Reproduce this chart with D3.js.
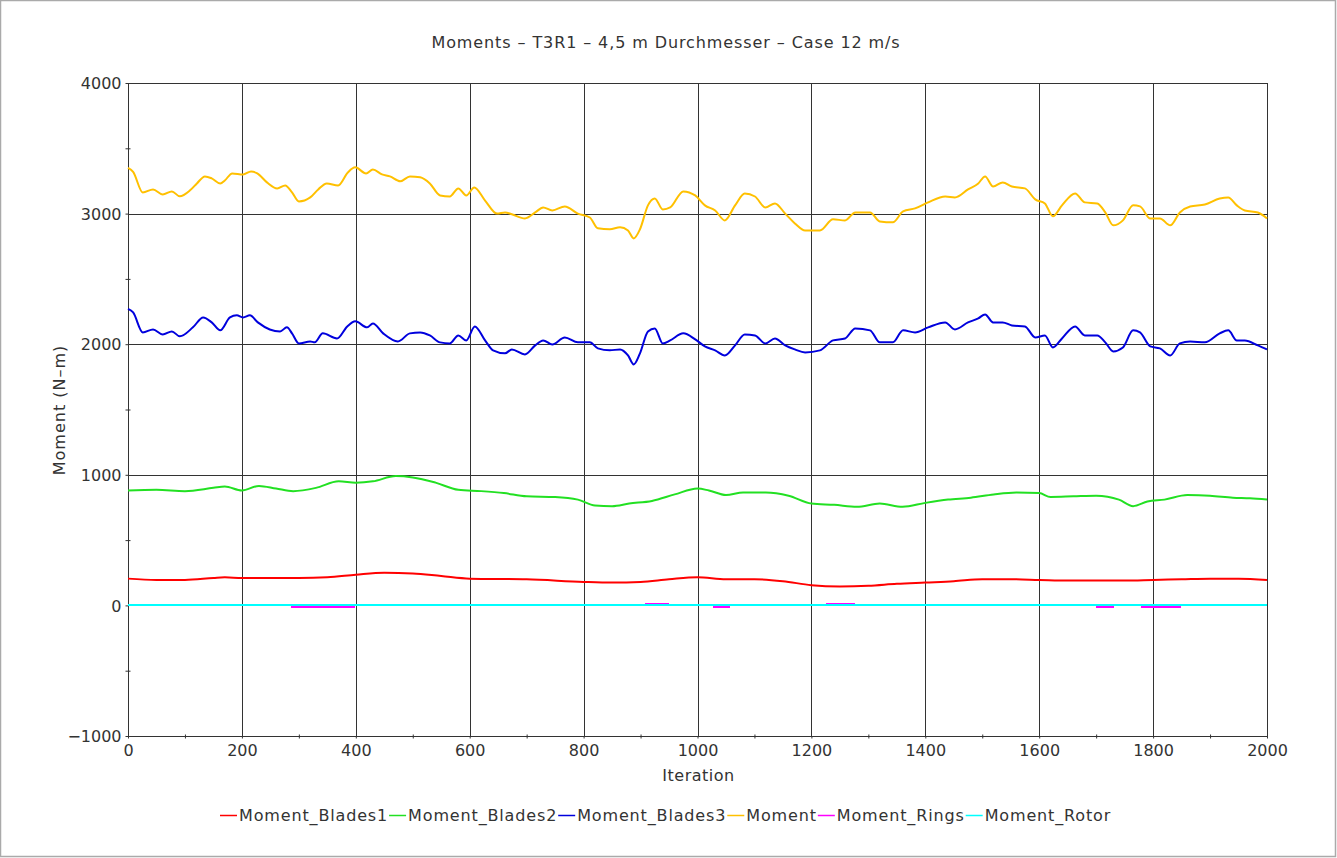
<!DOCTYPE html>
<html><head><meta charset="utf-8">
<script src="https://cdn.jsdelivr.net/npm/d3@7"></script>
<style>
body{margin:0;background:#fff;}
svg text{font-family:"DejaVu Sans",sans-serif;fill:#333;}
</style></head>
<body><svg id="c" width="1337" height="858"></svg>
<script>
const title = "Moments \u2013 T3R1 \u2013 4,5 m Durchmesser \u2013 Case 12 m/s";
const xLabel = "Iteration";
const yLabel = "Moment (N\u2013m)";
const xTicks = [0,200,400,600,800,1000,1200,1400,1600,1800,2000];
const yTicks = [-1000,0,1000,2000,3000,4000];
const seriesNames = ["Moment_Blades1","Moment_Blades2","Moment_Blades3","Moment","Moment_Rings","Moment_Rotor"];
const seriesColors = ["#ff0000","#22e022","#0000dd","#ffc000","#ff00ff","#00ffff"];

const blades1 = [[0,205],[50,195],[100,195],[150,210],[170,215],[200,210],[300,210],[350,215],[400,235],[450,250],[500,245],[550,225],[600,205],[700,200],[800,180],[850,175],[900,180],[950,200],[1000,215],[1050,200],[1100,200],[1150,185],[1200,155],[1250,145],[1300,150],[1350,165],[1400,175],[1450,185],[1500,200],[1550,200],[1600,195],[1650,190],[1700,190],[1750,190],[1800,195],[1850,200],[1900,205],[1950,205],[2000,195]];

const blades2 = [[0,880],[50,885],[100,875],[150,900],[170,910],[200,880],[230,915],[260,895],[290,875],[330,900],[370,950],[400,940],[430,950],[470,990],[500,980],[540,940],[580,885],[620,875],[660,860],[700,835],[750,830],[790,810],[820,765],[850,760],[880,780],[920,800],[960,850],[1000,895],[1020,880],[1050,845],[1080,865],[1120,865],[1160,840],[1200,780],[1240,770],[1280,755],[1320,780],[1360,755],[1400,785],[1440,810],[1480,825],[1520,850],[1560,865],[1600,860],[1620,830],[1660,835],[1700,840],[1740,810],[1765,760],[1790,795],[1820,810],[1860,845],[1900,840],[1940,825],[1970,820],[2000,810]];

const blades3 = [[0,2270],[9,2243],[26,2090],[44,2113],[61,2075],[77,2098],[91,2060],[114,2129],[132,2205],[147,2167],[162,2106],[179,2205],[191,2221],[202,2205],[214,2221],[228,2167],[249,2113],[267,2098],[279,2129],[288,2083],[300,2006],[320,2021],[328,2014],[342,2083],[367,2044],[385,2136],[399,2175],[420,2129],[430,2159],[448,2083],[474,2021],[495,2083],[513,2090],[530,2067],[548,2014],[565,2006],[580,2067],[594,2029],[609,2136],[627,2029],[641,1953],[662,1930],[674,1960],[697,1922],[715,1991],[729,2029],[745,1998],[767,2052],[790,2014],[811,2014],[825,1968],[846,1953],[864,1960],[878,1914],[888,1845],[899,1930],[913,2098],[925,2121],[939,2006],[952,2029],[975,2083],[996,2037],[1013,1983],[1031,1953],[1048,1914],[1066,1991],[1083,2075],[1101,2067],[1119,2006],[1136,2044],[1154,1991],[1171,1960],[1189,1937],[1215,1953],[1238,2029],[1259,2044],[1277,2121],[1303,2106],[1320,2014],[1343,2014],[1361,2106],[1382,2090],[1405,2129],[1435,2167],[1452,2113],[1475,2167],[1493,2198],[1505,2228],[1519,2167],[1536,2167],[1552,2144],[1575,2136],[1593,2052],[1610,2067],[1624,1975],[1640,2044],[1663,2136],[1680,2067],[1702,2067],[1716,2014],[1730,1945],[1747,1975],[1765,2106],[1777,2090],[1795,1983],[1812,1968],[1830,1914],[1847,2006],[1865,2021],[1891,2014],[1917,2083],[1932,2106],[1947,2029],[1961,2029],[1984,1991],[2000,1960]];

const moment = [[0,3350],[9,3320],[26,3162],[44,3185],[61,3147],[77,3170],[91,3132],[109,3178],[121,3231],[135,3285],[147,3270],[162,3231],[170,3254],[183,3308],[202,3300],[216,3323],[227,3308],[244,3239],[262,3193],[276,3216],[288,3162],[300,3093],[320,3124],[334,3185],[349,3231],[369,3216],[386,3315],[399,3354],[418,3308],[430,3338],[446,3300],[460,3285],[478,3247],[495,3285],[513,3278],[530,3231],[548,3139],[565,3131],[580,3193],[594,3139],[608,3200],[627,3100],[648,3000],[662,3009],[674,2995],[697,2963],[715,3009],[729,3047],[745,3024],[767,3055],[790,3000],[811,2970],[825,2887],[846,2880],[864,2895],[878,2870],[888,2810],[899,2880],[913,3063],[925,3116],[939,3032],[952,3047],[975,3170],[996,3139],[1013,3063],[1031,3024],[1048,2948],[1066,3063],[1083,3154],[1101,3131],[1119,3047],[1136,3078],[1154,3000],[1171,2925],[1189,2871],[1215,2871],[1238,2956],[1259,2948],[1277,3009],[1303,3009],[1320,2940],[1343,2933],[1361,3017],[1382,3040],[1405,3086],[1435,3131],[1452,3124],[1475,3185],[1493,3231],[1505,3285],[1519,3208],[1536,3239],[1552,3208],[1575,3193],[1593,3109],[1610,3078],[1624,2979],[1640,3063],[1663,3154],[1680,3086],[1702,3078],[1716,3009],[1730,2910],[1747,2948],[1765,3063],[1777,3055],[1795,2963],[1812,2963],[1830,2910],[1847,3009],[1865,3055],[1891,3070],[1917,3116],[1932,3124],[1947,3063],[1961,3024],[1984,3009],[2000,2963]];

const rings = [[0,0],[287,0],[288,-10],[397,-10],[398,0],[909,0],[910,10],[948,10],[949,0],[1028,0],[1029,-10],[1055,-10],[1056,0],[1226,0],[1227,10],[1275,10],[1276,0],[1700,0],[1701,-10],[1730,-10],[1731,0],[1779,0],[1780,-10],[1847,-10],[1848,0],[2000,0]];

const rotor = [[0,0],[2000,0]];

const seriesData = [blades1, blades2, blades3, moment, rings, rotor];
const drawOrder = [3,2,1,0,4,5];

const svg = d3.select("#c");
const W = 1337, H = 858;
const m = {left:128, right:1267, top:83, bottom:736};
const x = d3.scaleLinear().domain([0,2000]).range([m.left,m.right]);
const y = d3.scaleLinear().domain([-1000,4000]).range([m.bottom,m.top]);
const gridColor = "#333";

svg.append("rect").attr("x",0.5).attr("y",0.5).attr("width",W-2).attr("height",H-2)
  .attr("fill","#fff").attr("stroke","#aaa").attr("stroke-width",1.5);

svg.append("text").attr("x",666).attr("y",48).attr("text-anchor","middle")
  .style("font-size","16px").style("letter-spacing","0.9px").text(title);

// grid
const g = svg.append("g");
g.selectAll(".vg").data(xTicks).enter().append("line")
  .attr("x1",d=>Math.round(x(d))+0.5).attr("x2",d=>Math.round(x(d))+0.5)
  .attr("y1",m.top).attr("y2",m.bottom).attr("stroke",gridColor).attr("stroke-width",1);
g.selectAll(".hg").data(yTicks).enter().append("line")
  .attr("y1",d=>Math.round(y(d))+0.5).attr("y2",d=>Math.round(y(d))+0.5)
  .attr("x1",m.left).attr("x2",m.right).attr("stroke",gridColor).attr("stroke-width",1);

// axes
const xAxis = d3.axisBottom(x).tickValues(xTicks).tickSize(2).tickPadding(5).tickFormat(d3.format("d"));
const xMinor = d3.axisBottom(x).tickValues(d3.range(100,2000,200)).tickSize(2).tickFormat("");
const yAxis = d3.axisLeft(y).tickValues(yTicks).tickSize(3).tickPadding(4).tickFormat(d=> d<0 ? "\u2212"+Math.abs(d) : String(d));
const yMinor = d3.axisLeft(y).tickValues(d3.range(-500,4000,1000)).tickSize(3).tickFormat("");

function styleAxis(sel){
  sel.selectAll("path").attr("stroke",gridColor);
  sel.selectAll("line").attr("stroke",gridColor);
  sel.selectAll("text").style("font-size","16px").attr("fill","#333").style("font-family","DejaVu Sans");
}
const ax = svg.append("g").attr("transform",`translate(0,${m.bottom+0.5})`).call(xAxis).call(styleAxis);
ax.select(".domain").remove();
const axm = svg.append("g").attr("transform",`translate(0,${m.bottom+0.5})`).call(xMinor).call(styleAxis);
axm.select(".domain").remove();
axm.selectAll("line").attr("y1",-2);
const ay = svg.append("g").attr("transform",`translate(${m.left+0.5},0)`).call(yAxis).call(styleAxis);
ay.select(".domain").remove();
ay.selectAll("text").attr("dy","0.36em");
const aym = svg.append("g").attr("transform",`translate(${m.left+0.5},0)`).call(yMinor).call(styleAxis);
aym.select(".domain").remove();
aym.selectAll("line").attr("x1",2);
ax.selectAll("text").attr("dy","0.75em");

// frame
svg.append("rect").attr("x",m.left+0.5).attr("y",m.top+0.5).attr("width",m.right-m.left).attr("height",m.bottom-m.top)
  .attr("fill","none").attr("stroke",gridColor).attr("stroke-width",1);

// lines
const line = d3.line().x(d=>x(d[0])).y(d=>y(d[1])).curve(d3.curveMonotoneX);
const lineStep = d3.line().x(d=>x(d[0])).y(d=>y(d[1]));
const lg = svg.append("g");
drawOrder.forEach(i=>{
  const p = lg.append("path").datum(seriesData[i]).attr("fill","none")
    .attr("stroke",seriesColors[i]).attr("stroke-width",2)
    .attr("d", i>=4 ? lineStep : line);
  if (i>=4) p.attr("shape-rendering","crispEdges");
});

// axis titles
svg.append("text").attr("x",(m.left+m.right)/2+1).attr("y",781).attr("text-anchor","middle")
  .style("font-size","16px").style("letter-spacing","0.5px").text(xLabel);
svg.append("text").attr("transform","translate(65,410) rotate(-90)").attr("text-anchor","middle")
  .style("font-size","16px").style("letter-spacing","1px").text(yLabel);

// legend
const leg = svg.append("g");
let lx = 220; const ly = 815;
seriesNames.forEach((n,i)=>{
  leg.append("line").attr("x1",lx).attr("x2",lx+17).attr("y1",ly+0.5).attr("y2",ly+0.5)
    .attr("stroke",seriesColors[i]).attr("stroke-width",1.5);
  const t = leg.append("text").attr("x",lx+19).attr("y",ly+6).style("font-size","16px")
    .style("letter-spacing","0.85px").text(n);
  lx += 19 + t.node().getComputedTextLength() + 1;
});
</script></body></html>
